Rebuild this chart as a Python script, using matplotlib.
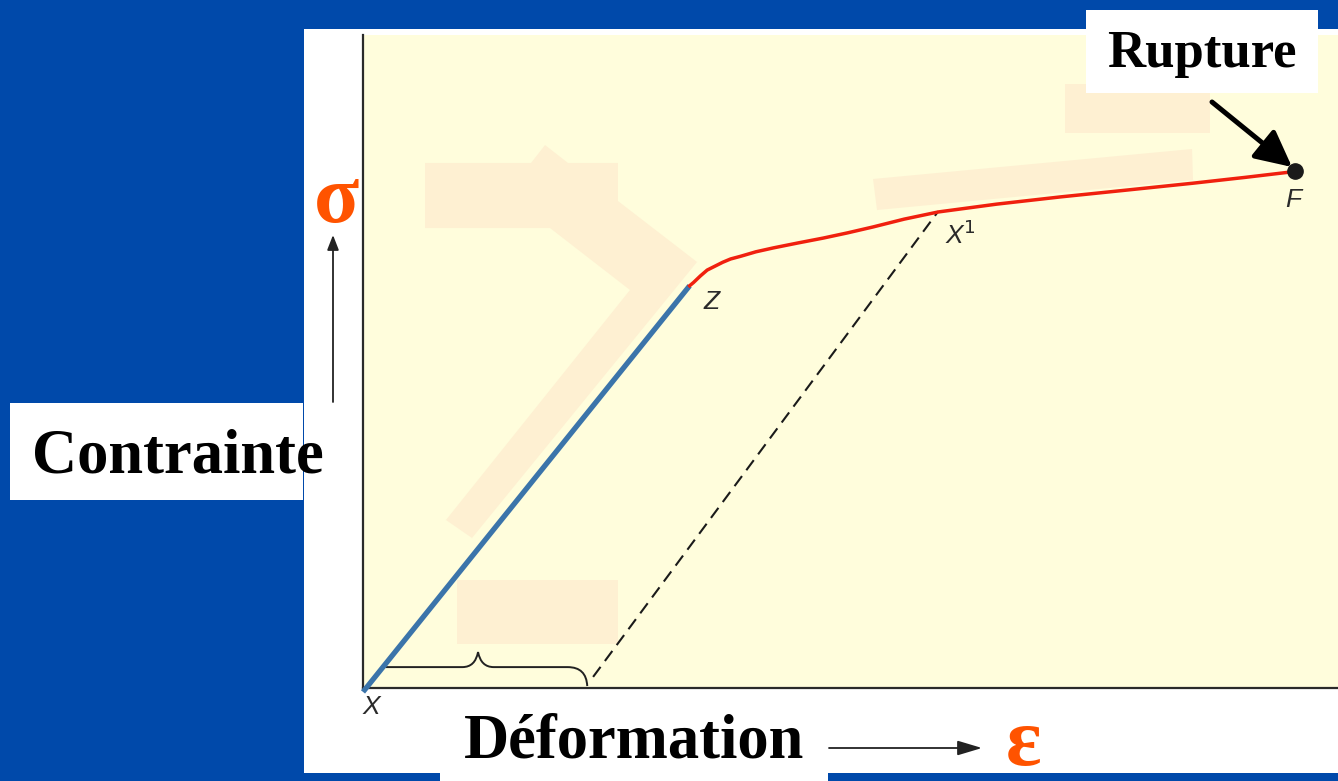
import matplotlib
matplotlib.use("Agg")
import matplotlib.pyplot as plt
from matplotlib.patches import Rectangle, Polygon, FancyArrowPatch, PathPatch
from matplotlib.path import Path
from matplotlib.transforms import Affine2D

# ---------------- data (arbitrary units: strain 0-100, stress 0-100) ----------------
elastic_strain = [0.0, 33.5]
elastic_stress = [-0.6, 61.6]

plastic_strain = [33.5, 33.9, 34.6, 35.3, 36.1, 36.9, 37.7, 38.7, 40.3, 42.1, 44.6,
                  47.2, 49.7, 52.3, 55.5, 59.0, 65.0, 71.5, 78.0, 85.1, 90.5, 95.6]
plastic_stress = [61.6, 62.1, 63.1, 64.0, 64.6, 65.2, 65.7, 66.1, 66.8, 67.4, 68.15,
                  68.9, 69.7, 70.6, 71.8, 72.9, 74.1, 75.2, 76.2, 77.3, 78.2, 79.1]

unload_strain = [23.6, 59.0]
unload_stress = [1.7, 73.0]

rupture_strain = [95.6]
rupture_stress = [79.1]

point_labels = ["X", "Z", "X$^1$", "F"]
point_label_x = [0.9, 35.8, 61.2, 95.4]
point_label_y = [-2.9, 59.1, 69.4, 74.7]

# masking shapes (in data units)
mask_arrow = [(6.36, 80.40), (17.23, 80.40), (18.67, 83.15), (21.03, 80.40), (26.15, 80.40),
              (26.15, 74.58), (34.26, 65.24), (11.18, 22.97), (8.51, 25.73), (27.38, 60.95),
              (19.18, 70.44), (6.36, 70.44)]
mask_band = [(52.31, 77.95), (85.03, 82.54), (85.13, 77.79), (52.72, 73.20)]
mask_rects = [(9.64, 6.74, 16.51, 9.80), (72.0, 84.99, 14.87, 7.51)]

# ---------------- figure ----------------
W, H = 1338, 781
fig = plt.figure(figsize=(W / 100, H / 100), dpi=100)
BLUE = "#0049AA"
fig.patch.set_facecolor(BLUE)

# pixel transform (top-left origin) for the slide decorations
T = Affine2D().scale(1 / W, -1 / H).translate(0, 1) + fig.transFigure


def px_rect(x0, y0, x1, y1, z=0.5, color="white"):
    r = Rectangle((x0, y1), x1 - x0, y0 - y1, transform=T, facecolor=color,
                  edgecolor="none", zorder=z)
    fig.add_artist(r)


px_rect(304, 29, W, 773, z=-1)          # white panel
px_rect(440, 760, 828, H, z=-1)          # Déformation box
px_rect(10, 403, 303, 500, z=1)          # Contrainte box

ax = fig.add_axes([363 / W, (H - 688) / H, 975 / W, 653 / H])
ax.set_zorder(0)
ax.set_facecolor("#FFFDDC")
ax.set_xlim(0, 100)
ax.set_ylim(0, 100)
ax.set_xticks([])
ax.set_yticks([])
for s in ["top", "right"]:
    ax.spines[s].set_visible(False)
for s in ["left", "bottom"]:
    ax.spines[s].set_color("#2a2a2a")
    ax.spines[s].set_linewidth(1.6)

BEIGE = "#FEF0D2"
ax.add_patch(Polygon(mask_arrow, closed=True, facecolor=BEIGE, edgecolor="none", zorder=1))
ax.add_patch(Polygon(mask_band, closed=True, facecolor=BEIGE, edgecolor="none", zorder=1))
for (x, y, w, h) in mask_rects:
    ax.add_patch(Rectangle((x, y), w, h, facecolor=BEIGE, edgecolor="none", zorder=1))

# curves
ax.plot(unload_strain, unload_stress, color="#1a1a1a", lw=1.5, ls=(0, (6, 3.5)), zorder=2)
ax.plot(elastic_strain, elastic_stress, color="#3B74AA", lw=3.8, zorder=3,
        solid_capstyle="butt", clip_on=False)
ax.plot(plastic_strain, plastic_stress, color="#F0200E", lw=2.5, zorder=3,
        solid_joinstyle="round")
ax.plot(rupture_strain, rupture_stress, "o", color="#1a1a1a", ms=11, zorder=4)

# brace
brace = Path([(2.3, 3.2), (10.2, 3.2), (11.5, 3.2), (11.8, 5.5), (12.1, 3.2), (13.4, 3.2),
              (21.0, 3.2), (22.9, 3.2), (23.0, 0.3)],
             [Path.MOVETO, Path.LINETO, Path.CURVE3, Path.CURVE3, Path.CURVE3, Path.CURVE3,
              Path.LINETO, Path.CURVE3, Path.CURVE3])
ax.add_patch(PathPatch(brace, facecolor="none", edgecolor="#222222", lw=1.4, zorder=2))

for lab, x, y in zip(point_labels, point_label_x, point_label_y):
    ax.text(x, y, lab, ha="center", va="center", fontsize=19, style="italic",
            family="Liberation Sans", color="#2a2a2a", zorder=5, clip_on=False)

# Rupture box + arrow
px_rect(1086, 10, 1318, 93, z=1)
fig.text(1202 / W, 1 - 67 / H, "Rupture", ha="center", va="baseline", fontsize=38,
         fontweight="bold", family="Liberation Serif", color="black", zorder=2)
arr = FancyArrowPatch((1212, 102), (1292, 167), transform=T,
                      arrowstyle="-|>,head_length=2.2,head_width=1.1", mutation_scale=10,
                      color="black", lw=3.6, zorder=3, shrinkA=0, shrinkB=0)
fig.add_artist(arr)

# axis labels
fig.text(178 / W, 1 - 472 / H, "Contrainte", ha="center", va="baseline", fontsize=45,
         fontweight="bold", family="Liberation Serif", color="black", zorder=2)
fig.text(634 / W, 1 - 758 / H, "Déformation", ha="center", va="baseline", fontsize=45,
         fontweight="bold", family="Liberation Serif", color="black", zorder=2)
ORANGE = "#FF5300"
fig.text(337 / W, 1 - 222 / H, "σ", ha="center", va="baseline", fontsize=60,
         fontweight="bold", family="Liberation Serif", color=ORANGE, zorder=2)
fig.text(1024 / W, 1 - 765 / H, "ε", ha="center", va="baseline", fontsize=60,
         fontweight="bold", family="Liberation Serif", color=ORANGE, zorder=2)

# small direction arrows
fig.add_artist(FancyArrowPatch((333, 402), (333, 235), transform=T,
                               arrowstyle="-|>,head_length=0.9,head_width=0.35",
                               mutation_scale=10, color="#222222", lw=1.3, zorder=2,
                               shrinkA=0, shrinkB=0))
fig.add_artist(FancyArrowPatch((829, 748), (982, 748), transform=T,
                               arrowstyle="-|>,head_length=1.5,head_width=0.45",
                               mutation_scale=10, color="#222222", lw=1.3, zorder=2,
                               shrinkA=0, shrinkB=0))

fig.savefig("out.png", dpi=100, facecolor=fig.get_facecolor())
